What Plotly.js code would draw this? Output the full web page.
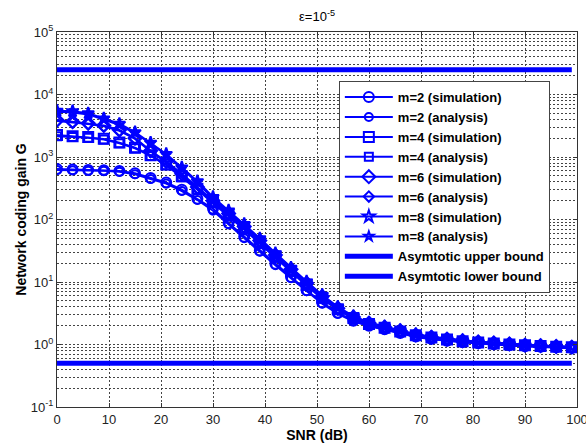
<!DOCTYPE html>
<html>
<head>
<meta charset="utf-8">
<script src="https://cdn.plot.ly/plotly-3.0.1.min.js"></script>
<style>html,body{margin:0;padding:0;background:#fff;}#chart{width:586px;height:443px;}</style>
</head>
<body>
<div id="chart"></div>
<script>
const snr = [0,3,6,9,12,15,18,21,24,27,30,33,36,39,42,45,48,51,54,57,60,63,66,69,72,75,78,81,84,87,90,93,96,99];

const m2Sim = [645,630,620,615,595,550,460,390,300,215,150,88,53,32,19.5,12,7.4,4.7,3.2,2.4,2.0,1.75,1.53,1.34,1.23,1.15,1.09,1.05,1.01,0.97,0.94,0.92,0.9,0.88];
const m2Ana = [620,615,605,600,580,530,445,375,285,205,138,83,50,30.5,18.5,11.5,7.1,4.5,3.1,2.35,1.97,1.72,1.51,1.32,1.21,1.14,1.08,1.04,1.0,0.96,0.93,0.91,0.89,0.87];
const m4Sim = [2240,2140,2090,1950,1700,1410,1070,760,490,310,190,118,72,43,25.5,15,9.0,5.6,3.65,2.65,2.12,1.85,1.62,1.4,1.29,1.2,1.13,1.08,1.04,1.0,0.97,0.95,0.92,0.9];
const m4Ana = [2150,2080,2030,1900,1660,1380,1040,740,475,300,182,113,69,41,24.5,14.5,8.7,5.4,3.55,2.6,2.09,1.83,1.6,1.39,1.28,1.19,1.12,1.07,1.03,0.99,0.96,0.94,0.91,0.89];
const m6Sim = [3900,3670,3470,3200,2700,2000,1260,850,540,330,200,125,77,46,27,16,9.6,5.9,3.8,2.75,2.2,1.9,1.66,1.43,1.31,1.22,1.15,1.1,1.06,1.02,0.98,0.96,0.93,0.91];
const m6Ana = [3750,3550,3380,3100,2620,1950,1230,820,520,315,190,120,74,44,26,15.5,9.3,5.7,3.7,2.7,2.17,1.88,1.64,1.42,1.3,1.21,1.14,1.09,1.05,1.01,0.97,0.95,0.92,0.9];
const m8Sim = [5500,5400,5000,4150,3400,2500,1700,1120,680,410,230,140,85,50,29,17,10.2,6.2,4.0,2.85,2.25,1.95,1.7,1.46,1.33,1.24,1.17,1.11,1.07,1.03,0.99,0.97,0.94,0.92];
const m8Ana = [5300,5150,4800,4000,3250,2400,1650,1080,650,390,215,132,80,47,28,16.5,9.8,6.0,3.9,2.8,2.22,1.92,1.68,1.44,1.32,1.23,1.16,1.1,1.06,1.02,0.98,0.96,0.93,0.91];

const upperBound = 2.5e4;
const lowerBound = 0.5;

const seriesNames = ["m=2 (simulation)","m=2 (analysis)","m=4 (simulation)","m=4 (analysis)","m=6 (simulation)","m=6 (analysis)","m=8 (simulation)","m=8 (analysis)"];
const boundNames = ["Asymtotic upper bound","Asymtotic lower bound"];
const xTickVals = [0,10,20,30,40,50,60,70,80,90,100];
const yTickVals = [0.1,1,10,100,1000,10000,100000];
const yTickText = ["10<sup>-1</sup>","10<sup>0</sup>","10<sup>1</sup>","10<sup>2</sup>","10<sup>3</sup>","10<sup>4</sup>","10<sup>5</sup>"];

const blue = "#0000ff";
const seriesData = [m2Sim,m2Ana,m4Sim,m4Ana,m6Sim,m6Ana,m8Sim,m8Ana];
const symbols = ["circle-open","circle-open","square-open","square-open","diamond-open","diamond-open","star-open","star-open"];
const sizes = [10,8,10,8,10,8,9,7];

const traces = seriesData.map((ys,i)=>({
  x: snr, y: ys, name: seriesNames[i], type: "scatter", mode: "lines+markers",
  line: {color: blue, width: 2},
  marker: {symbol: symbols[i], size: sizes[i], color: blue, line: {color: blue, width: 2}}
}));
traces.push({x:[snr[0], snr[snr.length-1]], y:[upperBound, upperBound], name: boundNames[0], type:"scatter", mode:"lines", line:{color:blue, width:5}});
traces.push({x:[snr[0], snr[snr.length-1]], y:[lowerBound, lowerBound], name: boundNames[1], type:"scatter", mode:"lines", line:{color:blue, width:5}});

const minorVals = [];
for (let d=-1; d<5; d++) for (let k=2; k<10; k++) minorVals.push(k*Math.pow(10,d));

const gridStyle = {gridcolor:"#444", griddash:"2px,2px", gridwidth:1};
const layout = {
  width: 586, height: 443,
  margin: {l:57, r:9, t:32, b:36},
  paper_bgcolor: "#fff", plot_bgcolor: "#fff",
  font: {family: "Liberation Sans, Arial, sans-serif", size: 12, color: "#222"},
  title: {text: "ε=10<sup>-5</sup>", x: 0.5, xref: "paper", xanchor: "center", y: 0.962, yanchor: "middle", font: {size: 13, color:"#000"}},
  showlegend: true,
  legend: {x: 0.542, y: 0.869, xanchor: "left", yanchor: "top", bgcolor: "#fff", bordercolor: "#444", borderwidth: 1,
           font: {size: 13, color: "#000", weight: "bold"}, itemsizing: "trace", itemwidth: 48},
  xaxis: Object.assign({
    range: [0, 100], tickmode: "array", tickvals: xTickVals, showgrid: true, zeroline: false,
    showline: true, linecolor: "#333", linewidth: 1, mirror: "ticks",
    ticks: "inside", ticklen: 4, tickcolor: "#333", ticklabeloverflow: "allow",
    tickfont: {size: 13, color: "#222"},
    title: {text: "SNR (dB)", font: {size: 14, weight: "bold", color: "#000"}, standoff: 2}
  }, gridStyle),
  yaxis: Object.assign({
    type: "log", range: [-1, 5], tickmode: "array", tickvals: yTickVals, ticktext: yTickText,
    showgrid: true, zeroline: false, showline: true, linecolor: "#333", linewidth: 1, mirror: "ticks",
    ticks: "inside", ticklen: 4, tickcolor: "#333",
    tickfont: {size: 13, color: "#222"},
    minor: {tickmode: "array", tickvals: minorVals, showgrid: true, gridcolor: "#444", griddash: "2px,2px", gridwidth: 1, ticks: ""},
    title: {text: "Network coding gain G", font: {size: 14, weight: "bold", color: "#000"}, standoff: 0}
  }, gridStyle)
};

Plotly.newPlot("chart", traces, layout, {displayModeBar: false, staticPlot: true});
</script>
</body>
</html>
